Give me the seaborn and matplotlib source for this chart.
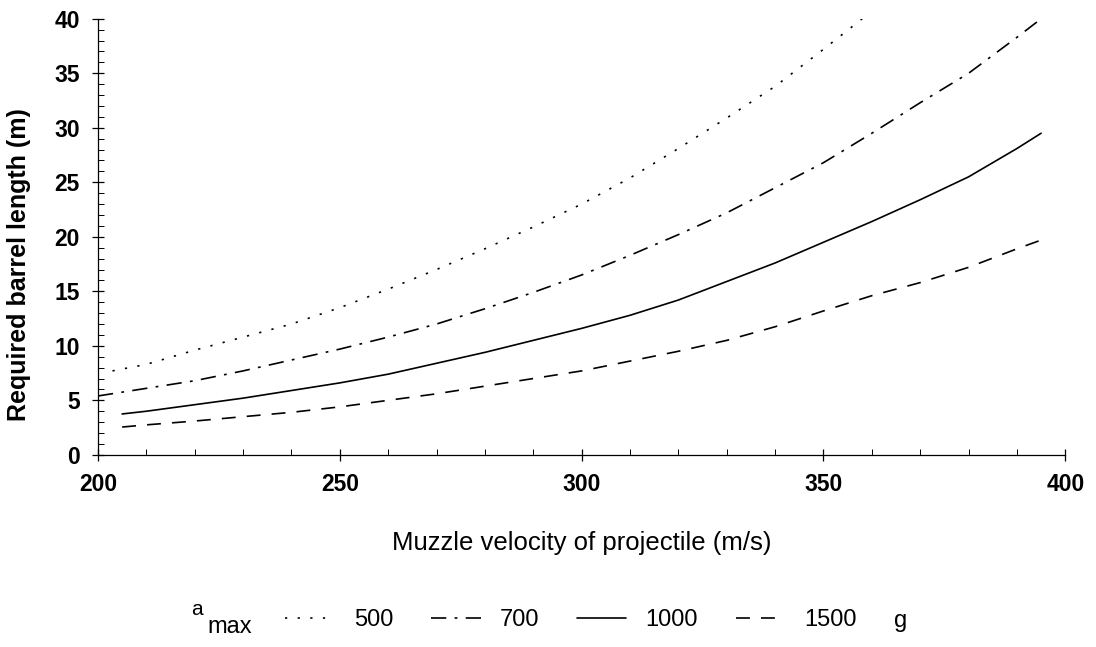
import matplotlib
matplotlib.use("Agg")
import matplotlib.pyplot as plt
from matplotlib.ticker import MultipleLocator
import numpy as np
import pandas as pd
import seaborn as sns

# values (barrel length in m)
v_500 = [203, 210, 220, 230, 240, 250, 260, 270, 280, 290, 300, 310, 320, 330, 340, 350, 358]
L_500 = [7.7, 8.3, 9.6, 10.8, 12.0, 13.5, 15.2, 17.0, 18.9, 20.9, 23.0, 25.4, 28.1, 30.9, 33.8, 37.2, 40.0]

v_700 = [200, 210, 220, 230, 240, 250, 260, 270, 280, 290, 300, 310, 320, 330, 340, 350, 360, 370, 380, 390, 395]
L_700 = [5.4, 6.1, 6.8, 7.7, 8.7, 9.7, 10.8, 12.0, 13.4, 14.9, 16.5, 18.3, 20.2, 22.2, 24.5, 26.8, 29.5, 32.3, 35.0, 38.3, 40.0]

v_1000 = [205, 210, 220, 230, 240, 250, 260, 270, 280, 290, 300, 310, 320, 330, 340, 350, 360, 370, 380, 390, 395]
L_1000 = [3.75, 4.0, 4.6, 5.2, 5.9, 6.6, 7.4, 8.4, 9.4, 10.5, 11.6, 12.8, 14.2, 15.9, 17.6, 19.5, 21.4, 23.4, 25.5, 28.1, 29.5]

v_1500 = [205, 210, 220, 230, 240, 250, 260, 270, 280, 290, 300, 310, 320, 330, 340, 350, 360, 370, 380, 390, 395]
L_1500 = [2.55, 2.75, 3.1, 3.5, 3.9, 4.4, 5.0, 5.6, 6.3, 7.0, 7.7, 8.6, 9.5, 10.5, 11.75, 13.2, 14.6, 15.8, 17.2, 18.9, 19.7]

series_names = ["500", "700", "1000", "1500"]

frames = []
for name, v, L in zip(series_names, [v_500, v_700, v_1000, v_1500],
                      [L_500, L_700, L_1000, L_1500]):
    frames.append(pd.DataFrame({"v": v, "L": L, "amax": name}))
df = pd.concat(frames, ignore_index=True)

sns.set_style("white")
plt.rcParams["font.family"] = ["Liberation Sans", "DejaVu Sans"]
plt.rcParams["lines.scale_dashes"] = False
plt.rcParams["text.color"] = "black"
plt.rcParams["axes.labelcolor"] = "black"

fig = plt.figure(figsize=(10.96, 6.47), dpi=100)
ax = fig.add_axes([0.0894, 0.297, 0.8826, 0.674])

dash_styles = {"500": (1.6, 7.5), "700": (11, 6, 2, 6), "1000": "", "1500": (10, 8)}
sns.lineplot(data=df, x="v", y="L", style="amax", style_order=series_names,
             dashes=dash_styles, color="black", linewidth=1.2, ax=ax,
             legend=True)

ax.set_xlim(200, 400)
ax.set_ylim(0, 40)
ax.xaxis.set_major_locator(MultipleLocator(50))
ax.xaxis.set_minor_locator(MultipleLocator(10))
ax.yaxis.set_major_locator(MultipleLocator(5))
ax.yaxis.set_minor_locator(MultipleLocator(1))

for s in ["top", "right"]:
    ax.spines[s].set_visible(False)
for s in ["left", "bottom"]:
    ax.spines[s].set_color("black")
    ax.spines[s].set_linewidth(0.9)

ax.tick_params(which="major", direction="inout", length=8, width=0.9,
               colors="black", labelsize=16.5, pad=9)
ax.tick_params(which="minor", direction="in", length=4, width=0.7, colors="black")
ax.tick_params(axis="x", which="both", bottom=True)
ax.tick_params(axis="y", which="both", left=True)
for lab in ax.get_xticklabels() + ax.get_yticklabels():
    lab.set_fontweight("bold")

ax.set_xlabel("Muzzle velocity of projectile (m/s)", fontsize=18.5, color="black")
ax.set_ylabel("Required barrel length (m)", fontsize=18, fontweight="bold", color="black")
ax.xaxis.set_label_coords(0.5, (455 - 531) / 436)
ax.yaxis.set_label_coords((31 - 98) / 967.6, (455 - 265) / 436)

handles, labels = ax.get_legend_handles_labels()
ax.get_legend().remove()
leg = fig.legend(handles, labels, loc="center", bbox_to_anchor=(571 / 1096, 1 - 620 / 647),
                 ncol=4, frameon=False, fontsize=17, handlelength=2.1,
                 handletextpad=0.8, columnspacing=1.6)
for t in leg.get_texts():
    t.set_color("black")
fig.text(197 / 1096, 1 - 615 / 647, "a", fontsize=15, ha="center", va="baseline")
fig.text(230 / 1096, 1 - 633 / 647, "max", fontsize=17, ha="center", va="baseline")
fig.text(901 / 1096, 1 - 627 / 647, "g", fontsize=17, ha="center", va="baseline")

fig.savefig("out.png", dpi=100)
